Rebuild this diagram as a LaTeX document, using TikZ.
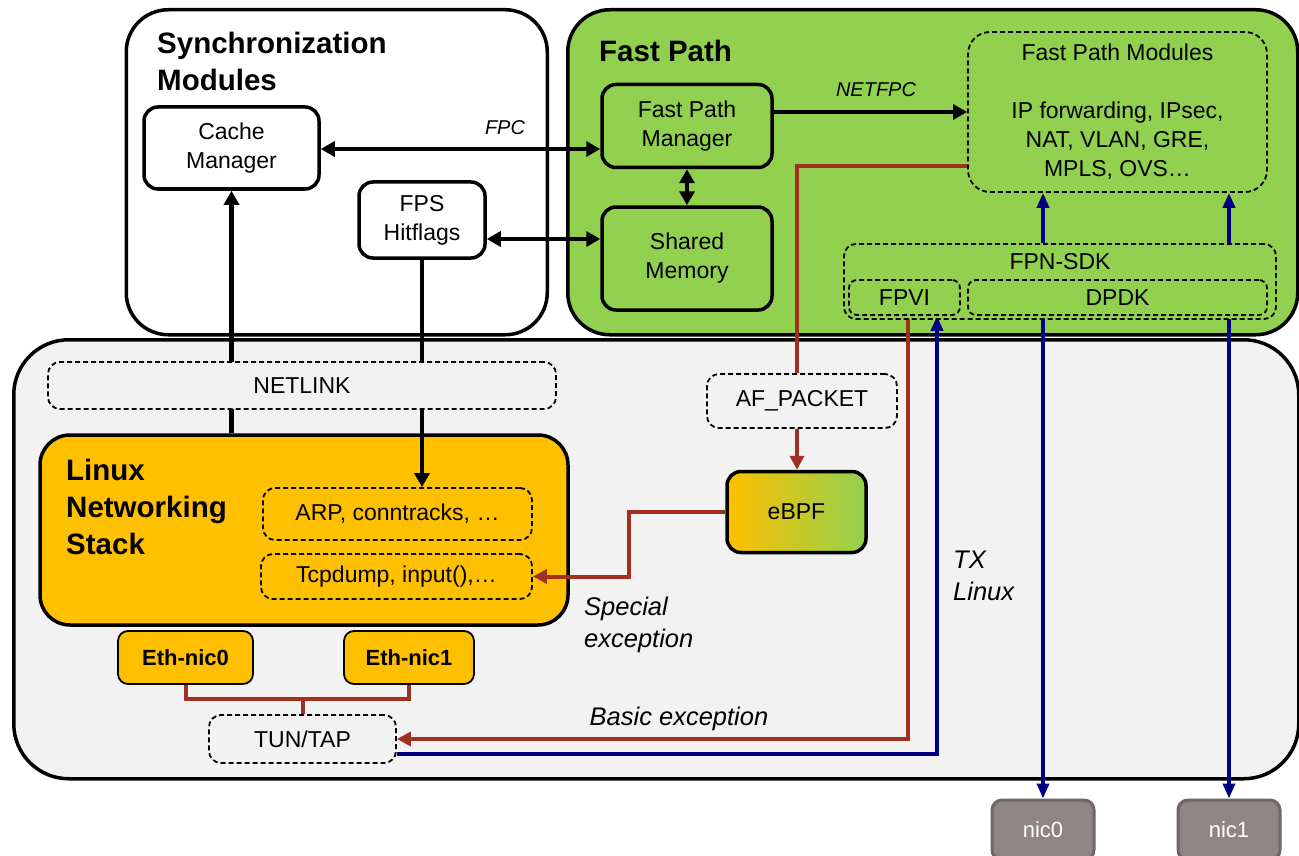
\documentclass[tikz,border=0pt]{standalone}
\usepackage{fontspec}
\setmainfont{Liberation Sans}
\usetikzlibrary{arrows.meta,calc}
\pgfdeclarelayer{bg}
\pgfdeclarelayer{mid}
\pgfsetlayers{bg,mid,main}
\definecolor{cGreen}{HTML}{92D050}
\definecolor{cOrange}{HTML}{FFC000}
\definecolor{cGray}{HTML}{F2F2F2}
\definecolor{cRed}{HTML}{A0301F}
\definecolor{cBlue}{HTML}{000080}
\definecolor{cNic}{HTML}{8E8585}
\definecolor{cNicB}{HTML}{6E6767}
\newcommand\mainf{\fontsize{23}{29}\selectfont}
\newcommand\titlef{\fontsize{29.5}{37}\selectfont\bfseries}
\newcommand\lblf{\fontsize{20}{24}\selectfont\itshape}
\newcommand\excf{\fontsize{25.5}{31.5}\selectfont\itshape}
\newcommand\ethf{\fontsize{22}{26}\selectfont\bfseries}
\begin{document}
\begin{tikzpicture}[x=1pt,y=-1pt,
  container/.style={draw, line width=3.5pt, inner sep=0pt, anchor=north west},
  box/.style={draw, line width=3.5pt, rounded corners=14pt, align=center, inner sep=0pt, font=\mainf},
  dbox/.style={draw, line width=1.8pt, dash pattern=on 5pt off 3pt, rounded corners=12pt, align=center, inner sep=0pt, font=\mainf},
  ethbox/.style={draw, line width=1.8pt, rounded corners=10pt, fill=cOrange, inner sep=0pt, font=\ethf, minimum height=53pt},
  nicbox/.style={draw=cNicB, line width=3pt, fill=cNic, rounded corners=10pt, text=white, inner sep=0pt, font=\fontsize{22}{26}\selectfont, minimum width=102pt, minimum height=60pt},
  title/.style={anchor=north west, inner sep=0pt, align=left, font=\titlef},
  lbl/.style={inner sep=0pt, font=\lblf},
  exc/.style={inner sep=0pt, align=left, font=\excf, anchor=north west},
  blk/.style={line width=4.5pt},
  tipb/.style={-{Triangle[length=14pt,width=15pt]}},
  dblb/.style={{Triangle[length=14pt,width=15pt]}-{Triangle[length=14pt,width=15pt]}},
  redl/.style={draw=cRed, line width=4pt},
  tipr/.style={-{Triangle[length=14pt,width=14pt]}},
  bluel/.style={draw=cBlue, line width=4pt},
  tipbl/.style={-{Triangle[length=15pt,width=12pt]}},
]
\path[use as bounding box] (0,0) rectangle (1299,856);
\clip (0,0) rectangle (1299,856);

% containers
\begin{pgfonlayer}{bg}
\node[container, rounded corners=42pt, fill=white, minimum width=421pt, minimum height=325pt] (sync) at (124.5,8) {};
\node[container, rounded corners=42pt, fill=cGreen, minimum width=730pt, minimum height=325pt] (fp) at (566,8) {};
\node[container, rounded corners=55pt, fill=cGray, minimum width=1285pt, minimum height=439pt] (lower) at (12,338) {};
\node[box, fill=cOrange, minimum width=528pt, minimum height=190pt, rounded corners=30pt] (lns) at (304,530) {};
\end{pgfonlayer}

% titles
\node[title] (synctitle) at (157,32) {Synchronization\\Modules};
\node[title] (fptitle) at (599,40) {Fast Path};

% synchronization modules
\node[box, fill=white, minimum width=175pt, minimum height=82pt] (cache) at (231.5,148) {Cache\\Manager};
\node[box, fill=white, minimum width=126pt, minimum height=76pt] (fps) at (422,220) {FPS\\Hitflags};

% fast path
\node[box, fill=cGreen, minimum width=170pt, minimum height=83pt] (fpm) at (687,126) {Fast Path\\Manager};
\node[box, fill=cGreen, minimum width=170pt, minimum height=103pt] (shm) at (687,258.5) {Shared\\Memory};
\node[dbox, fill=cGreen, minimum width=299pt, minimum height=160pt, rounded corners=22pt] (fpmod) at (1117.5,112) {Fast Path Modules\\ \\IP forwarding, IPsec,\\NAT, VLAN, GRE,\\MPLS, OVS…};
\node[dbox, fill=cGreen, minimum width=432pt, minimum height=75pt] (sdk) at (1060,281.5) {};
\node[inner sep=0pt, font=\mainf] (sdklbl) at (1060,262) {FPN-SDK};
\node[dbox, fill=cGreen, minimum width=111pt, minimum height=35pt, rounded corners=8pt] (fpvi) at (904.5,297.5) {FPVI};
\node[dbox, fill=cGreen, minimum width=299pt, minimum height=35pt, rounded corners=8pt] (dpdk) at (1117.5,297.5) {DPDK};

% lower part
\node[dbox, fill=cGray, minimum width=508pt, minimum height=47pt] (netlink) at (302,385.5) {NETLINK};
\node[title] (lnstitle) at (66,459) {Linux\\Networking\\Stack};
\node[dbox, fill=cOrange, minimum width=269pt, minimum height=52pt] (arp) at (397.5,514) {ARP, conntracks, …};
\node[dbox, fill=cOrange, minimum width=271pt, minimum height=45pt] (tcp) at (396.5,576.5) {Tcpdump, input(),…};
\node[dbox, fill=cGray, minimum width=190pt, minimum height=54pt] (afp) at (802,401) {AF\_PACKET};
\node[box, left color=cOrange, right color=cGreen, minimum width=139pt, minimum height=81pt] (ebpf) at (796.5,512) {eBPF};
\node[ethbox, minimum width=135pt] (eth0) at (185.5,657.5) {Eth-nic0};
\node[ethbox, minimum width=130pt] (eth1) at (409,657.5) {Eth-nic1};
\node[dbox, fill=cGray, minimum width=187pt, minimum height=48pt] (tuntap) at (302.5,739) {TUN/TAP};
\node[nicbox] (nic0) at (1043,830) {nic0};
\node[nicbox] (nic1) at (1229,830) {nic1};

% labels
\node[lbl] (fpclbl) at (505,128) {FPC};
\node[lbl] (netfpclbl) at (876,90) {NETFPC};
\node[exc] (speclbl) at (584,597) {Special\\exception};
\node[exc] (txlbl) at (953,551) {TX\\Linux};
\node[inner sep=0pt, font=\excf] (basiclbl) at (679,719) {Basic exception};

% connectors
\begin{pgfonlayer}{mid}
\draw[blk, dblb] (cache.east |- 0,149) -- (fpm.west |- 0,149);
\draw[blk, dblb] (fps.east |- 0,239) -- (shm.west |- 0,239);
\draw[blk, dblb] (fpm.south) -- (shm.north);
\draw[blk, tipb] (fpm.east |- 0,112) -- (fpmod.west |- 0,112);
\draw[blk, tipb] (cache.south |- lns.north) -- (cache.south);
\draw[blk, tipb] (fps.south) -- (fps.south |- arp.north);

\draw[bluel, tipbl] (sdk.north -| 1043,0) -- (fpmod.south -| 1043,0);
\draw[bluel, tipbl] (sdk.north -| 1229,0) -- (fpmod.south -| 1229,0);
\draw[bluel, tipbl] (dpdk.south -| nic0.north) -- (nic0.north);
\draw[bluel, tipbl] (dpdk.south -| nic1.north) -- (nic1.north);
\draw[bluel, tipbl] (tuntap.east |- 0,754) -| (fpvi.south -| 937,0);

\draw[redl, tipr] (fpvi.south -| 908,0) |- (tuntap.east);
\draw[redl] (fpmod.west |- 0,166) -| (afp.north -| 797,0);
\draw[redl, tipr] (afp.south -| 797,0) -- (ebpf.north -| 797,0);
\draw[redl, tipr] (ebpf.west) -- ++(-96,0) |- (tcp.east);
\draw[redl] (fpvi.east |- 0,291) -- (dpdk.west |- 0,291);
\draw[redl] (eth0.south) |- (tuntap.north |- 0,699) -| (eth1.south);
\draw[redl] (tuntap.north) -- (tuntap.north |- 0,699);
\end{pgfonlayer}
\end{tikzpicture}
\end{document}
